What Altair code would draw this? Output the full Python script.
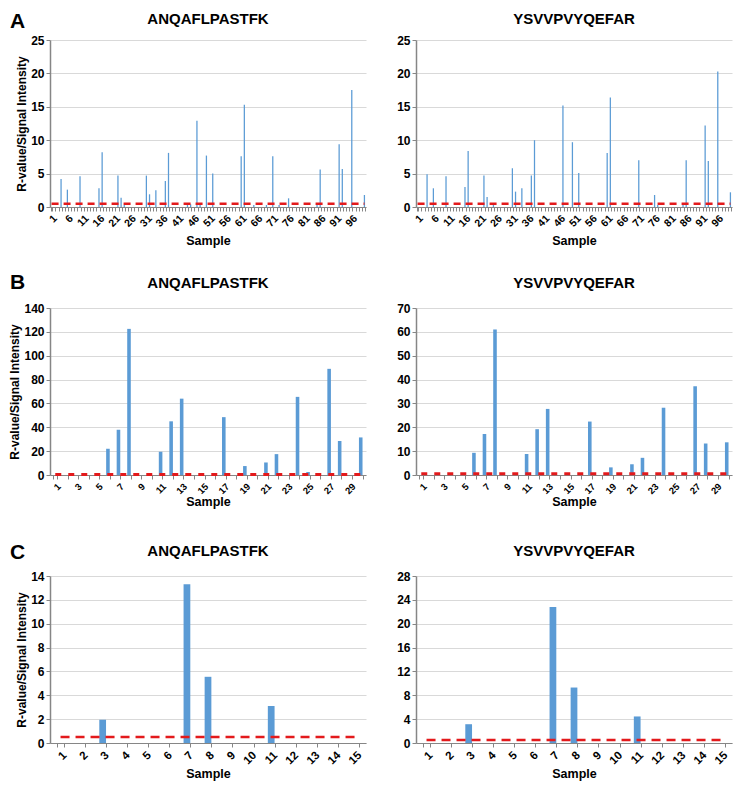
import altair as alt
import pandas as pd

FONT = "Liberation Sans"
BLUE = "#5B9BD5"
RED = "#E31A1C"
THRESHOLD = 0.5

samples_a = list(range(1, 101))
samples_b = list(range(1, 31))
samples_c = list(range(1, 16))

a_left = [
    0, 0, 0, 4.2, 0, 2.6, 0, 0, 0, 4.6,
    0, 0, 0, 0, 0, 2.8, 8.2, 0, 0, 0,
    0, 4.7, 1.4, 0.3, 0, 0, 0, 0, 0, 0,
    4.7, 1.9, 0, 2.5, 0, 0, 3.9, 8.1, 0, 0,
    0, 0, 0, 0.5, 0.4, 0, 12.9, 0.5, 0, 7.7,
    0, 5.0, 0, 0, 0, 0, 0, 0, 0, 0,
    7.6, 15.3, 0, 0, 0.3, 0, 0, 0, 0.3, 0,
    7.6, 0, 0.3, 0, 0, 1.3, 0, 0, 0, 0,
    0, 0, 0, 0, 0.5, 5.6, 0, 0, 0, 0,
    0, 9.4, 5.7, 0, 0, 17.5, 0, 0, 0, 1.8,
]
a_right = [
    0, 0, 0, 4.9, 0, 2.8, 0, 0, 0, 4.6,
    0, 0, 0, 0, 0, 3.0, 8.4, 0, 0, 0,
    0, 4.7, 1.5, 0, 0.3, 0, 0, 0, 0, 0,
    5.8, 2.3, 0, 2.8, 0, 0, 4.7, 10.0, 0, 0,
    0, 0, 0, 0, 0, 0, 15.2, 0, 0, 9.7,
    0, 5.1, 0, 0, 0, 0, 0, 0, 0, 0,
    8.1, 16.4, 0, 0, 0, 0, 0, 0, 0, 0,
    7.0, 0, 0, 0, 0, 1.8, 0.3, 0, 0, 0,
    0, 0, 0, 0, 0.5, 7.0, 0, 0, 0, 0,
    0, 12.2, 6.9, 0, 0, 20.3, 0, 0, 0, 2.2,
]
b_left = [
    0, 0, 0, 0, 0, 22, 38, 122.5, 0, 0,
    19.5, 45, 64, 0, 0, 0, 48.5, 0, 7.5, 0,
    10.5, 17.5, 0, 65.5, 2.5, 0, 89, 28.5, 0, 31.5,
]
b_right = [
    0, 0, 0, 0, 0, 9.3, 17.2, 61, 0, 0,
    8.8, 19.2, 27.7, 0, 0, 0, 22.4, 0, 3.2, 0,
    4.5, 7.2, 0, 28.2, 0, 0, 37.2, 13.2, 0, 13.7,
]
c_left = [0, 0, 1.95, 0, 0, 0, 13.3, 5.55, 0, 0, 3.1, 0, 0, 0, 0]
c_right = [0, 0, 3.15, 0, 0, 0, 22.8, 9.3, 0, 0, 4.45, 0, 0, 0, 0]

title_left = "ANQAFLPASTFK"
title_right = "YSVVPVYQEFAR"
y_title = "R-value/Signal Intensity"

W = 316
H = 167


def panel(samples, values, title, ymax, ystep, label_expr, pad_inner,
          dash, dash_width, label_size, title_pad, letter=None, left=False,
          title_y=-25, letter_y=-22):
    df = pd.DataFrame({
        "Sample": samples,
        "Value": values,
        "Cutoff": [THRESHOLD] * len(samples),
    })
    xscale = alt.Scale(paddingInner=pad_inner, paddingOuter=pad_inner / 2)
    xaxis = alt.Axis(
        title="Sample", labelAngle=-45, labelExpr=label_expr,
        labelOverlap=False, tickBand="extent", grid=False,
        labelFontSize=label_size, titlePadding=title_pad,
    )
    yaxis = alt.Axis(
        title=y_title if left else "",
        values=list(range(0, ymax + 1, ystep)), grid=True,
    )
    yscale = alt.Scale(domain=[0, ymax], nice=False)
    base = alt.Chart(df)
    bars = base.mark_bar(color=BLUE).encode(
        x=alt.X("Sample:O", scale=xscale, axis=xaxis),
        y=alt.Y("Value:Q", scale=yscale, axis=yaxis),
    )
    line = base.mark_line(color=RED, strokeDash=dash, strokeWidth=dash_width).encode(
        x=alt.X("Sample:O", scale=xscale, axis=xaxis),
        y=alt.Y("Cutoff:Q", scale=yscale, axis=yaxis),
    )
    ttl = alt.Chart(pd.DataFrame({"t": [title]})).mark_text(
        fontSize=15, fontWeight="bold", align="center", baseline="middle", font=FONT
    ).encode(text="t:N", x=alt.value(W / 2), y=alt.value(title_y))
    layers = [bars, line, ttl]
    if letter is not None:
        txt = alt.Chart(pd.DataFrame({"t": [letter]})).mark_text(
            fontSize=21, fontWeight="bold", align="left", baseline="middle", font=FONT
        ).encode(text="t:N", x=alt.value(-40), y=alt.value(letter_y))
        layers.append(txt)
    return alt.layer(*layers).properties(width=W, height=H)


expr_a = "(datum.value - 1) % 5 == 0 ? datum.label : ''"
expr_b = "datum.value % 2 == 1 ? datum.label : ''"
expr_c = "datum.label"

pa_l = panel(samples_a, a_left, title_left, 25, 5, expr_a, 0.6, [7, 5], 2.5, 10.5, 6, "A", True,
             title_y=-21, letter_y=-18)
pa_r = panel(samples_a, a_right, title_right, 25, 5, expr_a, 0.6, [7, 5], 2.5, 10.5, 6,
             title_y=-21)
pb_l = panel(samples_b, b_left, title_left, 140, 20, expr_b, 0.66, [6, 7], 3, 9.5, 0, "B", True,
             title_y=-25, letter_y=-25)
pb_r = panel(samples_b, b_right, title_right, 70, 10, expr_b, 0.66, [6, 7], 3, 9.5, 0,
             title_y=-25)
pc_l = panel(samples_c, c_left, title_left, 14, 2, expr_c, 0.68, [9, 6], 2.5, 11.5, 1, "C", True,
             title_y=-25, letter_y=-23)
pc_r = panel(samples_c, c_right, title_right, 28, 4, expr_c, 0.68, [9, 6], 2.5, 11.5, 1,
             title_y=-25)

chart = alt.concat(
    pa_l, pa_r, pb_l, pb_r, pc_l, pc_r,
    columns=2,
    spacing=alt.RowColnumber(row=101, column=50),
    bounds="flush",
).properties(
    padding={"left": 0, "top": 2, "right": 0, "bottom": 0},
).configure(
    font=FONT,
).configure_view(
    stroke="transparent",
).configure_axis(
    labelFont=FONT, titleFont=FONT,
    labelFontWeight="bold", titleFontWeight="bold",
    labelColor="#000000", titleColor="#000000",
    domainColor="#868686", tickColor="#868686", tickSize=4,
    gridColor="#D9D9D9", labelFontSize=12, titleFontSize=12.5,
    labelPadding=2,
).configure_axisY(
    titlePadding=2, titleFontSize=12, domainWidth=1.5,
)

chart.save("out.html", embed_options={"renderer": "svg", "actions": False})
